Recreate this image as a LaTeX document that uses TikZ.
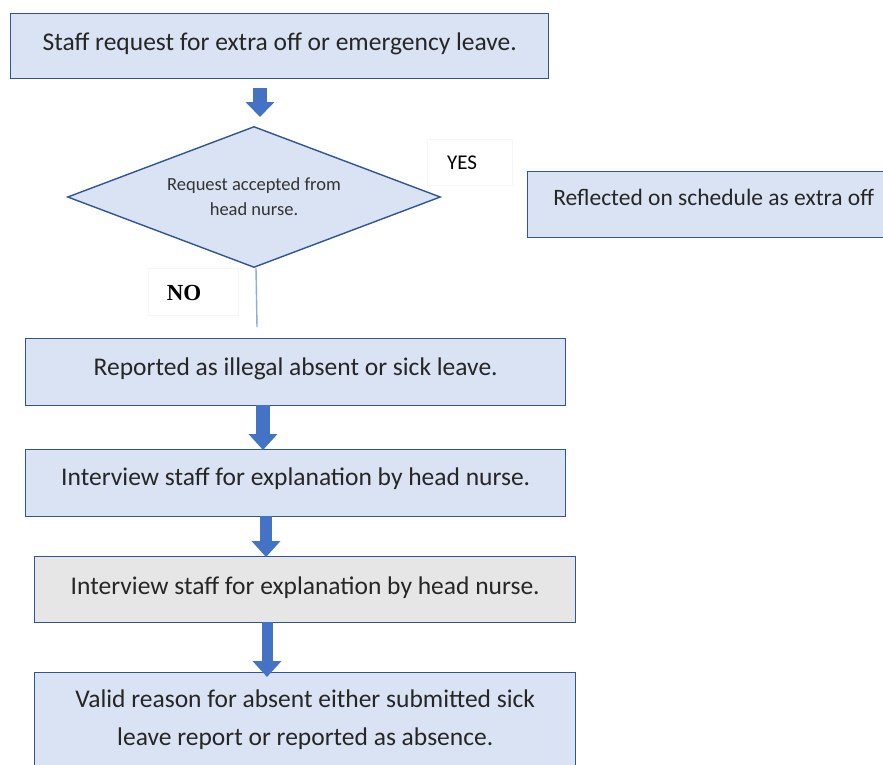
\documentclass[tikz,border=0pt]{standalone}
\usepackage{fontspec}
\setmainfont{Carlito}
\newfontfamily\serifb{Liberation Serif}
\usetikzlibrary{shapes.geometric,arrows.meta}
\definecolor{boxfill}{HTML}{DAE3F3}
\definecolor{boxline}{HTML}{2F5597}
\definecolor{grayfill}{HTML}{E7E6E6}
\definecolor{arrfill}{HTML}{4472C4}
\definecolor{thinline}{HTML}{8FAADC}
\definecolor{faint}{HTML}{F6F6F6}
\tikzset{
  box/.style={draw=boxline, fill=boxfill, line width=1.4pt, anchor=north west, inner sep=0pt, align=center, font=\fontsize{25.5}{38}\selectfont, text=black!85},
  graybox/.style={box, fill=grayfill},
  blockarrow/.style={draw=arrfill, line width=13pt, -{Triangle[width=28pt,length=16pt]}},
  tbox/.style={draw=faint, line width=0.6pt, inner sep=0pt, anchor=north west}
}
\begin{document}
\begin{tikzpicture}[x=1pt,y=-1pt]
\path[use as bounding box] (0,0) rectangle (883,764);
\clip (0,0) rectangle (883,764);
% boxes
\node[box, minimum width=538pt, minimum height=65pt] (b1) at (10,13) {\raisebox{10pt}{Staff request for extra off or emergency leave.}};
\node[diamond, draw=boxline, fill=boxfill, line width=1.4pt, minimum width=373pt, minimum height=141pt, inner sep=0pt, aspect=2.6, align=center, font=\fontsize{18.5}{25}\selectfont, text=black!80] (d) at (254,197) {Request accepted from\\head nurse.};
\node[tbox, minimum width=85pt, minimum height=46pt] (yesb) at (427,139) {};
\node[font=\fontsize{21}{24}\selectfont] (yes) at (462,163) {YES};
\node[box, font=\fontsize{23.5}{30}\selectfont, minimum width=360pt, minimum height=66pt] (r) at (527,171) {\raisebox{14pt}{\hspace*{12pt}Reflected on schedule as extra off}};
\node[tbox, minimum width=90pt, minimum height=47pt] (nob) at (148,268) {};
\node[font=\serifb\bfseries\fontsize{23}{26}\selectfont] (no) at (184,293) {NO};
\node[box, minimum width=540pt, minimum height=67pt] (b2) at (25,338) {\raisebox{12pt}{Reported as illegal absent or sick leave.}};
\node[box, minimum width=540pt, minimum height=67pt] (b3) at (25,449) {\raisebox{14pt}{Interview staff for explanation by head nurse.}};
\node[graybox, minimum width=541pt, minimum height=66pt] (b4) at (34,556) {\raisebox{9pt}{Interview staff for explanation by head nurse.}};
\node[box, minimum width=541pt, minimum height=110pt] (b5) at (34,672) {};
\node[font=\fontsize{25.5}{38}\selectfont, align=center, text=black!85] (t5) at (b5.north) [anchor=north, yshift=-14pt] {Valid reason for absent either submitted sick\\leave report or reported as absence.};
% connectors
\coordinate (a1s) at (260,88);
\coordinate (a1e) at (260,117);
\draw[blockarrow, line width=14pt, -{Triangle[width=28pt,length=15pt]}] (a1s) -- (a1e);
\draw[thinline, line width=1.4pt] (d.south) ++(2,0) coordinate (ds) -- (257,327) coordinate (de);
\coordinate (a2s) at (263,405);
\coordinate (a2e) at (263,450);
\draw[blockarrow, line width=14pt] (a2s) -- (a2e);
\coordinate (a3s) at (266,516);
\coordinate (a3e) at (266,557);
\draw[blockarrow, line width=12pt] (a3s) -- (a3e);
\coordinate (a4s) at (267,622);
\coordinate (a4e) at (267,677);
\draw[blockarrow, line width=11pt] (a4s) -- (a4e);
\end{tikzpicture}
\end{document}
